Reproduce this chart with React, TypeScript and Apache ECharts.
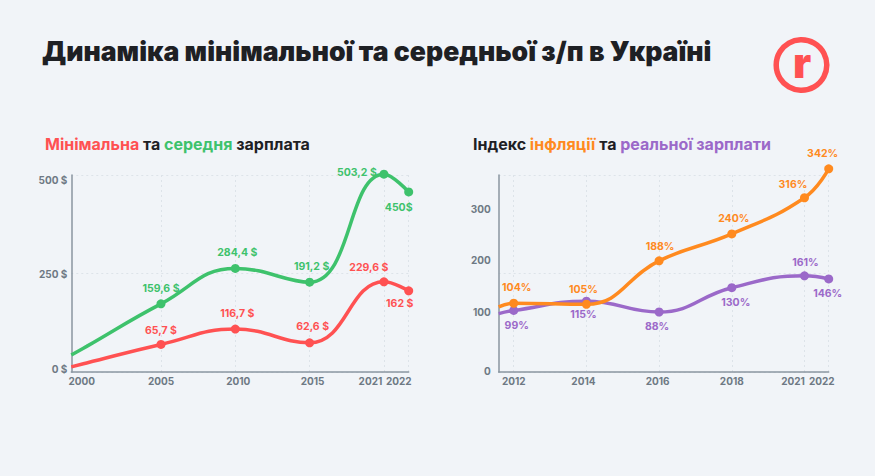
import React, { useEffect, useRef } from 'react';
import * as echarts from 'echarts';

// ---- data: minimum & average wage (USD) ----
const wageYears = ['2000', '2005', '2010', '2015', '2021', '2022'];
const avgWage = [65, 173, 263, 228, 502, 457];
const minWage = [23, 70, 109, 74, 229, 206];
const avgWageStart = 43;
const minWageStart = 13;
const avgWageLabels = ['', '159,6 $', '284,4 $', '191,2 $', '503,2 $', '450$'];
const minWageLabels = ['', '65,7 $', '116,7 $', '62,6 $', '229,6 $', '162 $'];
const wageTicks = [0, 250, 500];

// ---- data: inflation index & real wage index (%) ----
const indexYears = ['2012', '2014', '2016', '2018', '2021', '2022'];
const inflation = [117, 115, 199, 251, 321, 377];
const realWage = [103, 121, 100, 147, 170, 164];
const inflationStart = 110;
const realWageStart = 97;
const inflationLabels = ['104%', '105%', '188%', '240%', '316%', '342%'];
const realWageLabels = ['99%', '115%', '88%', '130%', '161%', '146%'];
const indexTicks = [0, 100, 200, 300];

// ---- styling ----
const FONT = 'Inter, Roboto, "Noto Sans", sans-serif';
const BG = '#F1F4F8';
const DARK = '#1E2024';
const RED = '#FF5152';
const GREEN = '#3EC26C';
const ORANGE = '#FF8A1F';
const PURPLE = '#9B69C9';
const GRAY = '#6E7984';
const AXIS = '#8A96A1';
const GRID = '#DDE3E9';

const X_MIN = -0.62;
const X_MAX = 13;
// designer's uneven time axis: evenly spaced points, last one squeezed in
const slot = (i: number, n: number) => (i < n - 1 ? 3 * i : 3 * (n - 2) + 1);

const axisFont = { fontFamily: FONT, fontSize: 10, fontWeight: 'bold' as const, color: GRAY };

function lineSeries(
  name: string,
  color: string,
  start: number,
  values: number[],
  labels: string[],
  offsets: number[][],
  xi: number,
  yi: number
) {
  const n = values.length;
  const data: any[] = [{ value: [X_MIN, start], symbol: 'none', label: { show: false } }];
  values.forEach((v, i) => {
    const item: any = { value: [slot(i, n), v] };
    if (!labels[i]) {
      item.symbol = 'none';
      item.label = { show: false };
    } else {
      item.label = { offset: offsets[i] };
    }
    data.push(item);
  });
  return {
    type: 'line',
    name,
    xAxisIndex: xi,
    yAxisIndex: yi,
    data,
    smooth: 0.45,
    symbol: 'circle',
    symbolSize: 9,
    showSymbol: true,
    clip: false,
    lineStyle: { color, width: 3.5 },
    itemStyle: { color },
    emphasis: { disabled: true },
    label: {
      show: true,
      position: 'inside',
      align: 'center',
      verticalAlign: 'middle',
      color,
      fontFamily: FONT,
      fontSize: 10.5,
      fontWeight: 'bold',
      formatter: (p: any) => labels[p.dataIndex - 1] || '',
    },
  };
}

function xAxisCfg(gi: number, years: string[], shifts: number[], gridSlots: number[]) {
  const n = years.length;
  const labelSlots = years.map((_, i) => slot(i, n));
  const rich: any = {};
  shifts.forEach((s, i) => {
    rich['s' + i] = { ...axisFont, padding: s >= 0 ? [0, 0, 0, 2 * s] : [0, -2 * s, 0, 0] };
  });
  return {
    type: 'value',
    gridIndex: gi,
    min: X_MIN,
    max: X_MAX,
    axisLine: { onZero: false, lineStyle: { color: AXIS, width: 1.5 } },
    axisTick: { show: false, customValues: gridSlots },
    splitLine: { show: true, lineStyle: { color: GRID, type: [2, 3], width: 1 } },
    axisLabel: {
      ...axisFont,
      customValues: labelSlots,
      margin: 4,
      rich,
      formatter: (v: number) => {
        const i = labelSlots.findIndex((s) => Math.abs(s - v) < 1e-6);
        return i < 0 ? '' : `{s${i}|${years[i]}}`;
      },
    },
  };
}

function yLabelRich(ticks: number[], dys: number[], fmt: (v: number) => string) {
  const rich: any = {};
  dys.forEach((d, i) => {
    rich['t' + i] = { ...axisFont, padding: d >= 0 ? [2 * d, 0, 0, 0] : [0, 0, -2 * d, 0] };
  });
  return {
    rich,
    formatter: (v: number) => {
      const i = ticks.indexOf(v);
      return i < 0 ? '' : `{t${i}|${fmt(v)}}`;
    },
  };
}

export default function App() {
  const ref = useRef<HTMLDivElement>(null);

  useEffect(() => {
    document.body.style.margin = '0';
    if (!ref.current) return;
    const chart = echarts.init(ref.current, undefined, { renderer: 'svg' });
    const n = indexYears.length;
    const sub = { fontFamily: FONT, fontSize: 16, fontWeight: 'bold' };
    const option: any = {
      animation: false,
      backgroundColor: BG,
      grid: [
        { left: 71.3, top: 175, width: 337.4, height: 197 },
        { left: 498.7, top: 175, width: 330, height: 197 },
      ],
      xAxis: [
        xAxisCfg(0, wageYears, [-5, 0, 3, 3, -13.5, -10], [3, 6, 9, 12, 13]),
        xAxisCfg(1, indexYears, [0, -3, -1.5, 0, -11.5, -7], indexYears.map((_, i) => slot(i, n))),
      ],
      yAxis: [
        {
          type: 'value',
          gridIndex: 0,
          min: 0,
          max: 500,
          interval: 250,
          axisLine: { show: true, onZero: false, lineStyle: { color: AXIS, width: 1.5 } },
          axisTick: { show: false },
          splitLine: { show: true, lineStyle: { color: GRID, type: [2, 3], width: 1 } },
          axisLabel: { ...axisFont, margin: 4, ...yLabelRich(wageTicks, [-3, 0, 5], (v) => `${v} $`) },
        },
        {
          type: 'value',
          gridIndex: 1,
          min: -16,
          max: 365,
          axisLine: { show: true, onZero: false, lineStyle: { color: AXIS, width: 1.5 } },
          axisTick: { show: false },
          splitLine: { show: false },
          axisLabel: {
            ...axisFont,
            margin: 8,
            customValues: indexTicks,
            ...yLabelRich(indexTicks, [7, 0, 0, 0], (v) => `${v}`),
          },
        },
        {
          type: 'value',
          gridIndex: 1,
          position: 'left',
          min: 0,
          max: 2,
          interval: 1,
          axisLine: { show: false },
          axisTick: { show: false },
          axisLabel: { show: false },
          splitLine: { show: true, lineStyle: { color: GRID, type: [2, 3], width: 1 } },
        },
      ],
      series: [
        lineSeries('Середня', GREEN, avgWageStart, avgWage, avgWageLabels,
          [[0, 0], [0, -15], [2, -16], [2, -16], [-27, -2], [-10, 16]], 0, 0),
        lineSeries('Мінімальна', RED, minWageStart, minWage, minWageLabels,
          [[0, 0], [0, -14], [2, -16], [3, -16], [-15, -14], [-9, 13]], 0, 0),
        lineSeries('Реальна зарплата', PURPLE, realWageStart, realWage, realWageLabels,
          [[3, 15], [-3, 13], [-2, 14], [4, 15], [1, -13], [-1, 15]], 1, 1),
        lineSeries('Інфляція', ORANGE, inflationStart, inflation, inflationLabels,
          [[3, -16], [-3, -15], [1, -14], [2, -15], [-11.5, -13.5], [-6, -15]], 1, 1),
      ],
      graphic: [
        {
          type: 'text',
          x: 42,
          y: 51,
          style: {
            text: 'Динаміка мінімальної та середньої з/п в Україні',
            fontFamily: FONT,
            fontSize: 26.6,
            fontWeight: 900,
            fill: DARK,
            align: 'left',
            verticalAlign: 'middle',
          },
        },
        {
          type: 'text',
          x: 45,
          y: 144,
          style: {
            text: '{r|Мінімальна} {k|та} {g|середня} {k|зарплата}',
            ...sub,
            fill: DARK,
            align: 'left',
            verticalAlign: 'middle',
            rich: {
              r: { fill: RED, ...sub },
              g: { fill: GREEN, ...sub },
              k: { fill: DARK, ...sub },
            },
          },
        },
        {
          type: 'text',
          x: 473,
          y: 144,
          style: {
            text: '{k|Індекс} {o|інфляції} {k|та} {p|реальної зарплати}',
            ...sub,
            fill: DARK,
            align: 'left',
            verticalAlign: 'middle',
            rich: {
              o: { fill: ORANGE, ...sub },
              p: { fill: PURPLE, ...sub },
              k: { fill: DARK, ...sub },
            },
          },
        },
        {
          type: 'circle',
          shape: { cx: 801.5, cy: 65, r: 25.3 },
          style: { fill: 'none', stroke: RED, lineWidth: 5.5 },
        },
        {
          type: 'text',
          x: 802,
          y: 62,
          style: {
            text: 'r',
            fontFamily: FONT,
            fontSize: 42,
            fontWeight: 900,
            fill: RED,
            align: 'center',
            verticalAlign: 'middle',
          },
        },
      ],
    };
    chart.setOption(option);
    return () => chart.dispose();
  }, []);

  return <div ref={ref} style={{ width: 875, height: 476 }} />;
}
